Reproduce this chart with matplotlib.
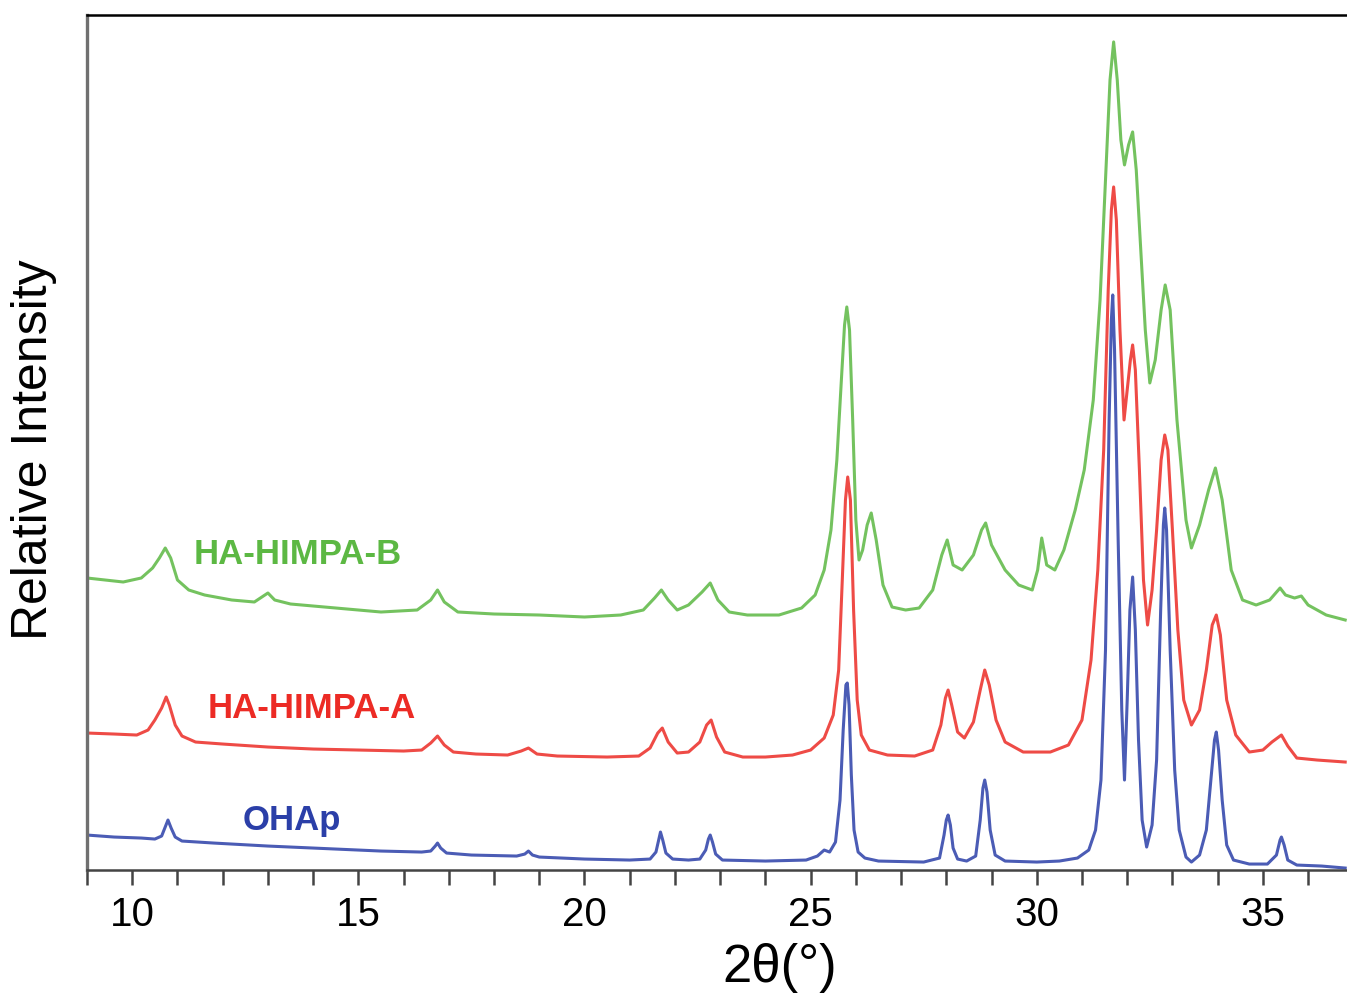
import numpy as np
import matplotlib
matplotlib.use("Agg")
import matplotlib.pyplot as plt
from matplotlib.ticker import MultipleLocator

plt.rcParams['font.family'] = ['Liberation Sans', 'DejaVu Sans']
narrow = ['Liberation Sans Narrow', 'Liberation Sans', 'DejaVu Sans']

# XRD patterns (2theta in degrees, intensity in a.u.)
ohap_x = [9.0, 9.6, 10.2, 10.5, 10.65, 10.72, 10.79, 10.86, 10.95, 11.1, 11.8, 13.0, 14.5, 15.5,
          16.4, 16.6, 16.7, 16.75, 16.82, 16.95, 17.5, 18.5, 18.68, 18.76, 18.85, 19.0, 20.0, 21.0,
          21.45, 21.58, 21.64, 21.68, 21.73, 21.8, 21.95, 22.3, 22.55, 22.68, 22.74, 22.78, 22.83,
          22.9, 23.05, 24.0, 24.9, 25.15, 25.3, 25.42, 25.55, 25.65, 25.72, 25.78, 25.81, 25.85,
          25.9, 25.96, 26.05, 26.2, 26.5, 27.5, 27.85, 27.95, 28.0, 28.04, 28.09, 28.15, 28.25,
          28.45, 28.65, 28.75, 28.81, 28.85, 28.9, 28.97, 29.08, 29.3, 30.0, 30.5, 30.9, 31.15,
          31.3, 31.42, 31.52, 31.6, 31.65, 31.68, 31.72, 31.8, 31.88, 31.94, 32.0, 32.06, 32.12,
          32.18, 32.25, 32.33, 32.43, 32.55, 32.65, 32.74, 32.8, 32.83, 32.87, 32.95, 33.05, 33.15,
          33.3, 33.42, 33.6, 33.75, 33.87, 33.93, 33.97, 34.02, 34.1, 34.2, 34.35, 34.7, 35.1,
          35.3, 35.38, 35.41, 35.47, 35.55, 35.75, 36.3, 36.82]
ohap_y = [35, 33, 32, 31, 34, 42, 50, 42, 33, 29, 27, 24, 21, 19,
          18, 19, 24, 27, 22, 17, 15, 14, 16, 19, 15, 13, 11, 10,
          11, 18, 30, 38, 30, 17, 11, 10, 11, 20, 31, 35, 28,
          16, 10, 9, 10, 14, 20, 18, 28, 70, 140, 185, 187, 165,
          95, 40, 18, 12, 9, 8, 12, 35, 50, 55, 45, 22, 11,
          9, 14, 50, 82, 90, 78, 40, 15, 9, 8, 9, 12, 20,
          40, 90, 220, 450, 550, 575, 520, 330, 160, 90, 170, 260, 293,
          240, 130, 50, 23, 45, 110, 260, 345, 362, 340, 220, 100, 40,
          13, 8, 15, 40, 100, 130, 138, 120, 70, 25, 10, 6, 6,
          15, 30, 33, 25, 10, 5, 4, 2]

hima_x = [9.0, 9.6, 10.1, 10.35, 10.5, 10.65, 10.75, 10.82, 10.95, 11.1, 11.4, 12.0, 13.0, 14.0,
          15.0, 16.0, 16.4, 16.6, 16.75, 16.9, 17.1, 17.6, 18.3, 18.6, 18.76, 18.95, 19.4, 20.5,
          21.2, 21.45, 21.62, 21.72, 21.85, 22.05, 22.3, 22.55, 22.7, 22.8, 22.92, 23.1, 23.5,
          24.0, 24.6, 25.0, 25.3, 25.5, 25.62, 25.7, 25.77, 25.82, 25.88, 25.95, 26.03, 26.12,
          26.3, 26.7, 27.3, 27.7, 27.88, 27.98, 28.04, 28.12, 28.25, 28.4, 28.6, 28.75, 28.85,
          28.95, 29.1, 29.3, 29.7, 30.3, 30.7, 31.0, 31.2, 31.35, 31.48, 31.58, 31.65, 31.7,
          31.76, 31.84, 31.93, 32.0, 32.07, 32.12, 32.18, 32.27, 32.36, 32.45, 32.55, 32.65,
          32.75, 32.83, 32.9, 33.0, 33.12, 33.25, 33.42, 33.6, 33.75, 33.88, 33.97, 34.06, 34.2,
          34.4, 34.7, 35.0, 35.2, 35.41, 35.55, 35.75, 36.2, 36.82]
hima_y = [137, 136, 135, 140, 150, 162, 173, 165, 145, 134, 128, 126, 123, 121,
          120, 119, 120, 127, 134, 125, 118, 116, 115, 119, 122, 116, 114, 113,
          114, 122, 137, 142, 128, 117, 118, 128, 145, 150, 133, 118, 113,
          113, 115, 120, 132, 155, 200, 290, 370, 393, 370, 260, 170, 135,
          120, 115, 114, 120, 145, 172, 180, 165, 138, 132, 148, 180, 200,
          185, 150, 128, 118, 118, 125, 150, 210, 300, 420, 580, 660, 683,
          650, 540, 450, 480, 510, 525, 500, 400, 290, 245, 280, 340,
          410, 435, 420, 340, 240, 170, 145, 160, 200, 245, 255, 235, 170,
          135, 118, 120, 128, 135, 124, 112, 110, 108]

himb_x = [9.0, 9.4, 9.8, 10.2, 10.45, 10.6, 10.73, 10.85, 11.0, 11.25, 11.6, 12.2, 12.7, 12.9,
          13.0, 13.15, 13.5, 14.5, 15.5, 16.3, 16.6, 16.75, 16.9, 17.2, 18.0, 19.0, 20.0, 20.8,
          21.3, 21.55, 21.7, 21.85, 22.05, 22.3, 22.6, 22.78, 22.95, 23.2, 23.6, 24.3, 24.8,
          25.1, 25.3, 25.45, 25.58, 25.68, 25.75, 25.8, 25.86, 25.93, 26.0, 26.07, 26.15, 26.25,
          26.34, 26.45, 26.6, 26.8, 27.1, 27.4, 27.7, 27.9, 28.02, 28.15, 28.35, 28.6, 28.78,
          28.87, 29.0, 29.3, 29.6, 29.9, 30.02, 30.11, 30.22, 30.4, 30.6, 30.85, 31.05, 31.25,
          31.4, 31.52, 31.62, 31.7, 31.78, 31.86, 31.94, 32.03, 32.12, 32.2, 32.3, 32.4, 32.5,
          32.62, 32.75, 32.84, 32.95, 33.1, 33.3, 33.42, 33.6, 33.8, 33.95, 34.1, 34.3, 34.55,
          34.85, 35.15, 35.38, 35.5, 35.7, 35.85, 36.0, 36.4, 36.82]
himb_y = [292, 290, 288, 292, 302, 312, 322, 312, 290, 280, 275, 270, 268, 274,
          277, 270, 266, 262, 258, 260, 270, 280, 268, 258, 256, 255, 253, 255,
          260, 272, 280, 270, 260, 265, 278, 287, 270, 258, 255, 255, 262,
          275, 300, 340, 410, 490, 545, 563, 540, 450, 350, 310, 320, 345,
          357, 330, 285, 263, 260, 262, 280, 315, 330, 305, 300, 315, 340,
          347, 325, 300, 285, 280, 300, 332, 305, 300, 320, 360, 400, 470,
          570, 690, 790, 828, 790, 730, 705, 725, 738, 700, 620, 540, 487,
          510, 560, 585, 560, 450, 350, 322, 345, 380, 402, 370, 300, 270,
          265, 270, 282, 275, 272, 274, 265, 255, 250]

names = ["OHAp", "HA-HIMPA-A", "HA-HIMPA-B"]
colors = ["#2b3fa8", "#ec2b25", "#5cb843"]
label_pos = [(12.45, 50), (11.66, 162), (11.35, 315)]

fig = plt.figure(figsize=(13.47, 9.94), dpi=100)
ax = fig.add_axes([0.0646, 0.1247, 0.9354, 0.8603])

for xs, ys, c in zip([ohap_x, hima_x, himb_x], [ohap_y, hima_y, himb_y], colors):
    ax.plot(xs, ys, color=c, lw=2.2, alpha=0.85)

for name, (tx, ty), c in zip(names, label_pos, colors):
    ax.text(tx, ty, name, color=c, fontsize=25, fontweight='bold', ha='left', va='center')

ax.set_xlim(9, 36.86)
ax.set_ylim(0, 855)
ax.set_yticks([])
ax.xaxis.set_major_locator(MultipleLocator(5))
ax.xaxis.set_minor_locator(MultipleLocator(1))
ax.tick_params(axis='x', which='both', direction='out', length=11, width=1.8,
               color='#444444', labelsize=29, pad=8)
for lab in ax.get_xticklabels():
    lab.set_family(narrow)
ax.spines['right'].set_visible(False)
ax.spines['left'].set_color('#707070')
ax.spines['left'].set_linewidth(2.4)
ax.spines['top'].set_color('black')
ax.spines['top'].set_linewidth(1.8)
ax.spines['bottom'].set_color('#444444')
ax.spines['bottom'].set_linewidth(1.8)

ax.set_xlabel('2θ(°)', fontsize=38, family=narrow)
ax.xaxis.set_label_coords(0.55, -0.085)
ax.set_ylabel('Relative Intensity', fontsize=36)
ax.yaxis.set_label_coords(-0.024, 0.492)

fig.savefig('out.png', dpi=100)
